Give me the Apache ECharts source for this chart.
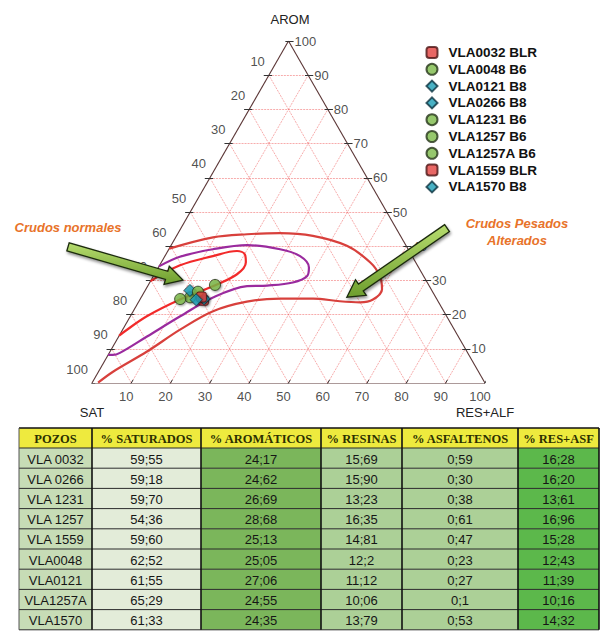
<!DOCTYPE html>
<html><head><meta charset="utf-8">
<script src="https://cdn.jsdelivr.net/npm/echarts/dist/echarts.min.js"></script>
<style>html,body{margin:0;padding:0;background:#fff}#c{width:600px;height:636px}</style>
</head><body><div id="c"></div>
<script>
// ---------- DATA ----------
const tickValues = [10, 20, 30, 40, 50, 60, 70, 80, 90, 100];
const gridLevels = [10, 20, 30, 40, 50, 60, 70, 80, 90];

// wells plotted (legend order): AROM % and RES+ASF %
const wellNames   = ['VLA0032 BLR','VLA0048 B6','VLA0121 B8','VLA0266 B8','VLA1231 B6','VLA1257 B6','VLA1257A B6','VLA1559 BLR','VLA1570 B8'];
const wellSymbols = ['roundRect','circle','diamond','diamond','circle','circle','circle','roundRect','diamond'];
const wellArom    = [24.17, 25.05, 27.06, 24.62, 26.69, 28.68, 24.55, 25.13, 24.35];
const wellResAsf  = [16.28, 12.43, 11.39, 16.20, 13.61, 16.96, 10.16, 15.28, 14.32];

// envelope curves, points as [RES+ALF %, AROM %]
const outerCurve = [[0,39.3],[9.5,42.6],[17.7,43.5],[25.9,43.8],[34.7,43.0],[44.8,40.1],[53.1,35.3],[57.6,31.3],[60.1,27.4],[59.3,24.4],[56.4,23.6],[51.1,23.9],[43.9,24.7],[35.5,24.7],[27.5,23.8],[20.3,21.0],[14.6,15.6],[9.4,9.2],[3.7,3.3],[1.5,0.1]];
const purpleCurve = [[0,34.1],[3.9,36.9],[11.2,39.1],[19.3,40.3],[28.3,39.1],[34.4,37.1],[38.3,33.8],[39.1,31.3],[36.4,29.4],[30.3,28.5],[25.3,28.3],[18.3,25.0],[12.7,19.5],[7.2,13.6],[2.7,8.8],[1.2,8.2],[0,8.2]];
const innerCurve  = [[0,29.8],[5.2,34.4],[12.2,37.1],[17.6,38.6],[20.1,37.6],[21.5,35.3],[21.0,31.8],[16.6,28.3],[10.2,24.4],[4.2,19.5],[0.5,14.7],[0,13.8]];

// annotation arrows, [RES+ALF %, AROM %]
const arrowTails = [[-26.0, 39.8], [67.7, 45.3]];
const arrowTips  = [[8.1, 30.1], [52.3, 25.1]];

// table
const tableHeaders = ['POZOS','% SATURADOS','% AROMÁTICOS','% RESINAS','% ASFALTENOS','% RES+ASF'];
const pozos      = ['VLA 0032','VLA 0266','VLA 1231','VLA 1257','VLA 1559','VLA0048','VLA0121','VLA1257A','VLA1570'];
const saturados  = ['59;55','59;18','59;70','54;36','59;60','62;52','61;55','65;29','61;33'];
const aromaticos = ['24;17','24;62','26;69','28;68','25;13','25;05','27;06','24;55','24;35'];
const resinas    = ['15;69','15;90','13;23','16;35','14;81','12;2','11;12','10;06','13;79'];
const asfaltenos = ['0;59','0;30','0;38','0;61','0;47','0;23','0;27','0;1','0;53'];
const resAsf     = ['16;28','16;20','13;61','16;96','15;28','12;43','11;39','10;16','14;32'];

// ---------- BUILD ----------
const SQ = Math.sqrt(3) / 2;
function toXY(r, a) { return [r + a / 2, a * SQ]; }

const gridSegs = [];
gridLevels.forEach(v => {
  gridSegs.push({ coords: [toXY(0, v), toXY(100 - v, v)] });
  gridSegs.push({ coords: [toXY(v, 0), toXY(v, 100 - v)] });
  gridSegs.push({ coords: [toXY(v, 0), toXY(0, v)] });
});
const edgeSegs = [
  { coords: [toXY(0, 0), toXY(100, 0)] },
  { coords: [toXY(100, 0), toXY(0, 100)] },
  { coords: [toXY(0, 100), toXY(0, 0)] }
];
const tickSegs = [];
tickValues.forEach(v => {
  const pl = toXY(0, 100 - v);
  tickSegs.push({ coords: [[pl[0] - 1.3, pl[1]], [pl[0] + 0.8, pl[1]]] });
  const pr = toXY(100 - v, v);
  tickSegs.push({ coords: [[pr[0] - 0.8, pr[1]], [pr[0] + 1.3, pr[1]]] });
  const pb = toXY(v, 0);
  tickSegs.push({ coords: [[pb[0] - 0.55, -0.95], [pb[0] + 0.45, 0.8]] });
});

const FONT = "'Liberation Sans', Arial, sans-serif";
const axisCol = '#5b3636';
const tickLabelStyle = { fontSize: 13, color: '#222', fontFamily: FONT };

function labelSeries(points, labelOpt) {
  return {
    type: 'scatter', silent: true, symbolSize: 0.1, z: 4,
    itemStyle: { color: 'rgba(0,0,0,0)' },
    data: points,
    label: Object.assign({ show: true, formatter: '{b}', position: 'inside' }, tickLabelStyle, labelOpt)
  };
}

const colorBySymbol = {
  roundRect: { color: '#e2413f', borderColor: '#4a1414' },
  circle:    { color: '#7cba48', borderColor: '#25351a' },
  diamond:   { color: '#1c9db5', borderColor: '#0c3340' }
};
const sizeBySymbol = { roundRect: 10, circle: 11, diamond: 12 };

const wellSeries = wellNames.map((n, i) => ({
  type: 'scatter', name: n, symbol: wellSymbols[i], symbolSize: sizeBySymbol[wellSymbols[i]], z: 10,
  data: [toXY(wellResAsf[i], wellArom[i])],
  itemStyle: Object.assign({ borderWidth: 1, shadowBlur: 2, shadowColor: 'rgba(0,0,0,0.45)', shadowOffsetX: 1, shadowOffsetY: 1 }, colorBySymbol[wellSymbols[i]])
}));

function curveSeries(pts, color) {
  return {
    type: 'line', silent: true, smooth: 0.35, symbol: 'none', z: 3,
    data: pts.map(p => toXY(p[0], p[1])),
    lineStyle: { color: color, width: 2.2 }
  };
}

// ---------- TABLE (graphic) ----------
const colX = [19, 92, 201, 321, 402, 518, 599];
const tTop = 428, hH = 20, rH = 20.2;
const colBg = ['#c7dcb6', '#e3ecd9', '#7bb65b', '#acd097', '#acd097', '#5cb84b'];
const columns = [pozos, saturados, aromaticos, resinas, asfaltenos, resAsf];
const tableEls = [];
for (let c = 0; c < 6; c++) {
  tableEls.push({ type: 'rect', shape: { x: colX[c], y: tTop, width: colX[c + 1] - colX[c], height: hH }, style: { fill: '#eeea3e' } });
  tableEls.push({ type: 'text', x: (colX[c] + colX[c + 1]) / 2, y: tTop + hH / 2 + 1,
    style: { text: tableHeaders[c], fill: '#2c3000', font: "bold 12.5px 'Liberation Serif', 'Times New Roman', serif", align: 'center', verticalAlign: 'middle' } });
  for (let r = 0; r < pozos.length; r++) {
    const y = tTop + hH + r * rH;
    tableEls.push({ type: 'rect', shape: { x: colX[c], y: y, width: colX[c + 1] - colX[c], height: rH }, style: { fill: colBg[c] } });
    tableEls.push({ type: 'text', x: (colX[c] + colX[c + 1]) / 2, y: y + rH / 2 + 1,
      style: { text: columns[c][r], fill: '#161616', font: "13px " + FONT, align: 'center', verticalAlign: 'middle' } });
  }
}
// borders
const tBottom = tTop + hH + pozos.length * rH;
tableEls.push({ type: 'line', shape: { x1: colX[0], y1: tTop, x2: colX[6], y2: tTop }, style: { stroke: '#111', lineWidth: 1.5 } });
for (let r = 0; r <= pozos.length; r++) {
  const y = tTop + hH + r * rH;
  tableEls.push({ type: 'line', shape: { x1: colX[0], y1: y, x2: colX[6], y2: y }, style: { stroke: '#2a2a2a', lineWidth: 1 } });
}
for (let c = 0; c <= 6; c++) {
  tableEls.push({ type: 'line', shape: { x1: colX[c], y1: tTop, x2: colX[c], y2: tBottom }, style: { stroke: c === 0 ? '#555' : '#111', lineWidth: c === 0 ? 1 : 1.6 } });
}

// ---------- CHART ----------
const chart = echarts.init(document.getElementById('c'), null, { renderer: 'svg' });
const option = {
  animation: false,
  backgroundColor: '#fff',
  grid: { left: 92, top: 41, width: 393, height: 342, containLabel: false },
  xAxis: { type: 'value', min: 0, max: 100, show: false },
  yAxis: { type: 'value', min: 0, max: 100 * SQ, show: false },
  legend: {
    data: wellNames, orient: 'vertical', left: 425.5, top: 45.5, padding: 0,
    itemWidth: 11, itemHeight: 11, itemGap: 2.8, symbolKeepAspect: true, selectedMode: false,
    textStyle: { fontSize: 13.5, fontWeight: 'bold', color: '#111', fontFamily: FONT, lineHeight: 14, padding: [0, 0, 0, 6] }
  },
  series: [
    { type: 'lines', coordinateSystem: 'cartesian2d', silent: true, z: 1, data: gridSegs,
      lineStyle: { color: '#f06a6a', width: 0.8, type: [2, 1], opacity: 0.7 } },
    { type: 'lines', coordinateSystem: 'cartesian2d', silent: true, z: 2, data: edgeSegs,
      lineStyle: { color: axisCol, width: 1.1, opacity: 1 } },
    { type: 'lines', coordinateSystem: 'cartesian2d', silent: true, z: 2, data: tickSegs,
      lineStyle: { color: '#333', width: 1, opacity: 1 } },
    curveSeries(outerCurve, '#d8403c'),
    curveSeries(purpleCurve, '#9a2a9e'),
    curveSeries(innerCurve, '#f22a2a'),
    labelSeries(tickValues.map(s => ({ name: String(s), value: toXY(0, 100 - s) })), { align: 'right', verticalAlign: 'middle', offset: [-4, -14] }),
    labelSeries(tickValues.map(a => ({ name: String(a), value: toXY(100 - a, a) })), { align: 'left', verticalAlign: 'middle', offset: [6, 0] }),
    labelSeries(tickValues.map(v => ({ name: String(v), value: toXY(v, 0) })), { align: 'center', verticalAlign: 'middle', offset: [-5, 13] })
  ].concat(wellSeries)
};
chart.setOption(option);

// arrows and annotation texts
function arrowPolygon(tail, tip) {
  const T = chart.convertToPixel({ gridIndex: 0 }, toXY(tail[0], tail[1]));
  const P = chart.convertToPixel({ gridIndex: 0 }, toXY(tip[0], tip[1]));
  const dx = P[0] - T[0], dy = P[1] - T[1], L = Math.hypot(dx, dy);
  const d = [dx / L, dy / L], n = [-d[1], d[0]];
  const w = 4.2, hw = 9.5, hl = 17;
  const B = [P[0] - d[0] * hl, P[1] - d[1] * hl];
  const pt = (b, k) => [b[0] + n[0] * k, b[1] + n[1] * k];
  return [pt(T, w), pt(B, w), pt(B, hw), P, pt(B, -hw), pt(B, -w), pt(T, -w)];
}
const arrowEls = arrowTails.map((t, i) => ({
  type: 'polygon', z: 50,
  shape: { points: arrowPolygon(t, arrowTips[i]) },
  style: {
    fill: new echarts.graphic.LinearGradient(0, 0, 0, 1, [{ offset: 0, color: '#b6dc6e' }, { offset: 1, color: '#6e9e2e' }]),
    stroke: '#1b2a0e', lineWidth: 1.3, shadowBlur: 3, shadowColor: 'rgba(0,0,0,0.45)', shadowOffsetX: 1, shadowOffsetY: 2
  }
}));
const annFont = "italic bold 13px " + FONT;
const annEls = [
  { type: 'text', x: 68, y: 227, z: 50, style: { text: 'Crudos normales', fill: '#e8732a', font: annFont, align: 'center', verticalAlign: 'middle' } },
  { type: 'text', x: 517, y: 223, z: 50, style: { text: 'Crudos Pesados', fill: '#e8732a', font: annFont, align: 'center', verticalAlign: 'middle' } },
  { type: 'text', x: 517, y: 240, z: 50, style: { text: 'Alterados', fill: '#e8732a', font: annFont, align: 'center', verticalAlign: 'middle' } },
  { type: 'text', x: 290, y: 19, style: { text: 'AROM', fill: '#222', font: "13px " + FONT, align: 'center', verticalAlign: 'middle' } },
  { type: 'text', x: 92, y: 412, style: { text: 'SAT', fill: '#222', font: "13px " + FONT, align: 'center', verticalAlign: 'middle' } },
  { type: 'text', x: 485, y: 412, style: { text: 'RES+ALF', fill: '#222', font: "13px " + FONT, align: 'center', verticalAlign: 'middle' } }
];
chart.setOption({ graphic: { elements: tableEls.concat(arrowEls, annEls) } });
</script>
</body></html>
